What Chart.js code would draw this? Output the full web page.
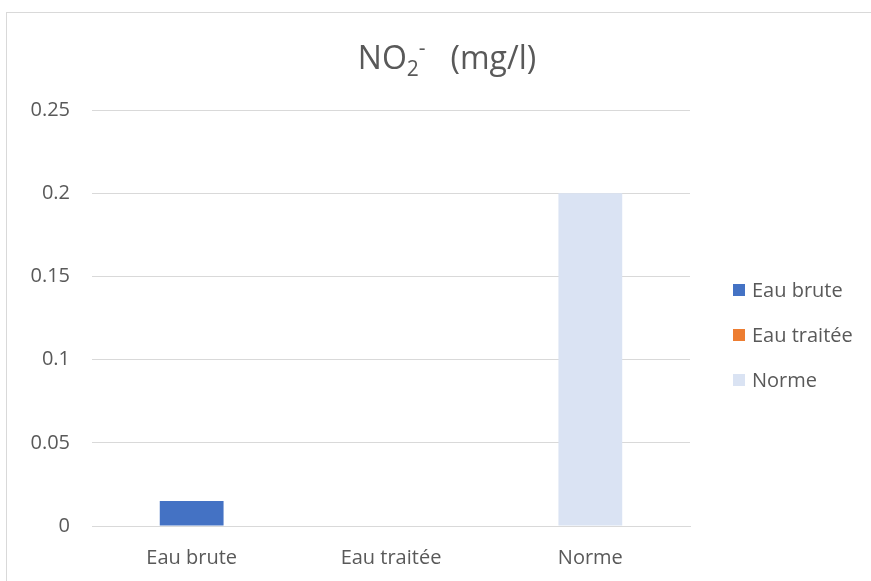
<!DOCTYPE html>
<html>
<head>
<meta charset="utf-8">
<script src="https://cdn.jsdelivr.net/npm/chart.js@4.4.1/dist/chart.umd.min.js"></script>
<style>
  html, body { margin: 0; padding: 0; background: #fff; }
  #wrap { width: 871px; height: 581px; }
</style>
</head>
<body>
<div id="wrap"><canvas id="mycanvas" width="871" height="581"></canvas></div>
<script>
// NO2- readings per sample
var categories = ['Eau brute', 'Eau traitée', 'Norme'];
var seriesNames = ['Eau brute', 'Eau traitée', 'Norme'];
var eauBrute = [0.015, null, null];
var eauTraitee = [null, 0, null];
var norme = [null, null, 0.2];
var yTicks = [0, 0.05, 0.1, 0.15, 0.2, 0.25];

var colors = ['#4472C4', '#ED7D31', '#DAE3F3'];
var textColor = '#595959';
var gridColor = '#D9D9D9';
var font = '"Open Sans", sans-serif';

var seriesValues = [eauBrute, eauTraitee, norme];
var datasets = [];
for (var i in seriesNames) {
    datasets.push({
        label: seriesNames[i],
        data: seriesValues[i],
        backgroundColor: colors[i],
        borderWidth: 0
    });
}

// chart frame, title with sub/superscript, and right-hand legend
var decor = {
    id: 'decor',
    beforeDraw: function(chart) {
        var c = chart.ctx;
        c.save();
        c.strokeStyle = gridColor;
        c.lineWidth = 1;
        c.strokeRect(6.5, 12.5, 900, 600);
        c.restore();
    },
    afterDraw: function(chart) {
        var c = chart.ctx;
        c.save();
        c.fillStyle = textColor;
        c.textBaseline = 'alphabetic';
        var big = '32px ' + font, small = '21px ' + font;
        var parts = [
            { t: 'NO', f: big, dy: 0 },
            { t: '2', f: small, dy: 7 },
            { t: '-', f: small, dy: -14 },
            { t: '   (mg/l)', f: big, dy: 0 }
        ];
        var w = 0;
        parts.forEach(function(p) { c.font = p.f; p.w = c.measureText(p.t).width; w += p.w; });
        var x = 447 - w / 2, base = 69;
        parts.forEach(function(p) { c.font = p.f; c.fillText(p.t, x, base + p.dy); x += p.w; });

        // legend
        c.font = '20px ' + font;
        c.textBaseline = 'middle';
        chart.data.datasets.forEach(function(ds, k) {
            var y = 290 + k * 45;
            c.fillStyle = ds.backgroundColor;
            c.fillRect(733, y - 6, 12, 12);
            c.fillStyle = textColor;
            c.fillText(ds.label, 752, y + 1);
        });
        c.restore();
    }
};

var ctx = document.getElementById('mycanvas');
var barGraph = new Chart(ctx, {
    type: 'bar',
    data: { labels: categories, datasets: datasets },
    plugins: [decor],
    options: {
        responsive: false,
        animation: false,
        layout: { padding: { top: 110, right: 181, bottom: 0, left: 0 } },
        plugins: {
            legend: { display: false },
            title: { display: false },
            tooltip: { enabled: false }
        },
        datasets: { bar: { barPercentage: 0.32, categoryPercentage: 1 } },
        scales: {
            x: {
                stacked: true,
                grid: { display: false },
                border: { color: gridColor, width: 1 },
                ticks: { color: textColor, font: { family: font, size: 20 }, padding: 12 },
                afterFit: function(s) { s.height = 55; }
            },
            y: {
                stacked: true,
                min: 0,
                max: 0.25,
                afterBuildTicks: function(s) {
                    s.ticks = yTicks.map(function(v) { return { value: v }; });
                },
                grid: { color: gridColor, drawTicks: false },
                border: { display: false },
                ticks: {
                    color: textColor,
                    font: { family: font, size: 20 },
                    padding: 22,
                    callback: function(v) { return String(+v.toFixed(2)); }
                },
                afterFit: function(s) { s.width = 92; }
            }
        }
    }
});
</script>
</body>
</html>
